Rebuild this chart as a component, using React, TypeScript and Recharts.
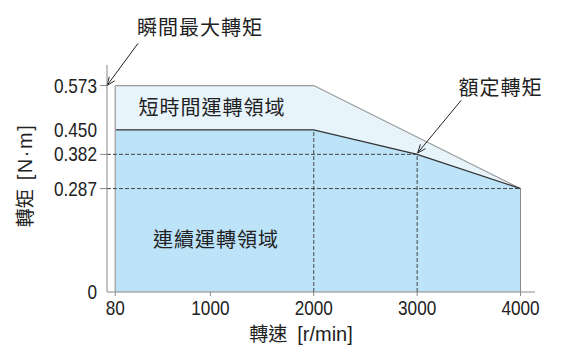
import { ComposedChart, Area, XAxis, YAxis, ReferenceLine, ReferenceDot } from "recharts";

const CJK = "'Noto Sans CJK TC', 'Noto Sans CJK SC', sans-serif";
const NUM = "'Liberation Sans', Arial, sans-serif";

// speed [r/min] vs torque [N·m]
const speeds = [80, 2000, 3000, 4000];
const shortTorque = [0.573, 0.573, null, 0.287]; // short-time zone top edge
const contTorque = [0.45, 0.45, 0.382, 0.287]; // continuous zone top edge

const xTicks = [80, 1000, 2000, 3000, 4000];
const yTicks = [0, 0.287, 0.382, 0.45, 0.573];
const yTicksMarked = [0.287, 0.382, 0.573];

// text annotations, placed in data coordinates
const notes = [
  { text: "瞬間最大轉矩", x: 900, y: 0.732 },
  { text: "短時間運轉領域", x: 1015, y: 0.51 },
  { text: "連續運轉領域", x: 1055, y: 0.145 },
  { text: "額定轉矩", x: 3806, y: 0.567 },
];
const arrows = [
  { x1: 300, y1: 0.69, x2: 0, y2: 0.573 },
  { x1: 3426, y1: 0.532, x2: 3005, y2: 0.386 },
];

const data = speeds.map((s, i) => ({ speed: s, short: shortTorque[i], cont: contTorque[i] }));

// dashed guides to the corner, rated and max-speed points
const guides = [
  [{ x: 0, y: contTorque[2] }, { x: speeds[2], y: contTorque[2] }],
  [{ x: 0, y: contTorque[3] }, { x: speeds[3], y: contTorque[3] }],
  [{ x: speeds[1], y: 0 }, { x: speeds[1], y: contTorque[1] }],
  [{ x: speeds[2], y: 0 }, { x: speeds[2], y: contTorque[2] }],
];

function fmtTorque(v: number): string {
  return v === 0 ? "0" : v.toFixed(3);
}

// condensed-looking numerals: regular sans squeezed horizontally
function NumText({ x, y, anchor, dy, children }: any) {
  return (
    <g transform={`translate(${x},${y}) scale(0.86,1)`}>
      <text x={0} y={0} dy={dy} textAnchor={anchor} fontSize={20} fill="#222" fontFamily={NUM}>
        {children}
      </text>
    </g>
  );
}

function YTick(props: any) {
  const { x, y, payload } = props;
  const marked = yTicksMarked.includes(payload.value);
  return (
    <g>
      <NumText x={x} y={y} anchor="end" dy="0.355em">
        {fmtTorque(payload.value)}
      </NumText>
      {marked && <line x1={x + 3} x2={x + 10} y1={y} y2={y} stroke="#888" strokeWidth={1} />}
    </g>
  );
}

function XTick(props: any) {
  const { x, y, payload } = props;
  return (
    <NumText x={x} y={y} anchor="middle" dy="0.71em">
      {payload.value}
    </NumText>
  );
}

function Arrow(p: any) {
  const { x1, y1, x2, y2 } = p;
  const ang = Math.atan2(y2 - y1, x2 - x1);
  const len = 9;
  const sp = 0.38;
  const a1 = ang + Math.PI - sp;
  const a2 = ang + Math.PI + sp;
  return (
    <g>
      <line x1={x1} y1={y1} x2={x2} y2={y2} stroke="#222" strokeWidth={1} />
      <polyline
        points={`${x2 + len * Math.cos(a1)},${y2 + len * Math.sin(a1)} ${x2},${y2} ${x2 + len * Math.cos(a2)},${y2 + len * Math.sin(a2)}`}
        fill="none"
        stroke="#222"
        strokeWidth={1}
      />
    </g>
  );
}

function noteShape(text: string) {
  return (p: any) => (
    <text
      x={p.cx}
      y={p.cy}
      dy="0.35em"
      textAnchor="middle"
      fontSize={20}
      fill="#222"
      fontFamily={CJK}
      style={{ letterSpacing: "1px" }}
    >
      {text}
    </text>
  );
}

export default function App() {
  return (
    <div style={{ position: "absolute", left: 0, top: 0 }}>
      <ComposedChart width={584} height={362} data={data} margin={{ top: 65, right: 49, bottom: 40, left: 0 }}>
        <XAxis
          dataKey="speed"
          type="number"
          domain={[0, 4140]}
          ticks={xTicks}
          interval={0}
          stroke="#888"
          tickSize={4}
          tickMargin={5}
          height={30}
          tick={<XTick />}
          label={(lp: any) => {
            const vb = lp.viewBox;
            return (
              <text x={vb.x + vb.width / 2 - 20} y={334} dy="0.35em" textAnchor="middle" fontSize={19} fill="#222" fontFamily={CJK}>
                轉速
                <tspan dx={10} fontFamily={NUM} fontSize={20}>[r/min]</tspan>
              </text>
            );
          }}
        />
        <YAxis
          type="number"
          domain={[0, 0.63]}
          ticks={yTicks}
          interval={0}
          width={107}
          stroke="#888"
          tickSize={7}
          tickMargin={3}
          tickLine={false}
          tick={<YTick />}
          label={(lp: any) => {
            const vb = lp.viewBox;
            const cy = vb.y + vb.height / 2 - 3;
            return (
              <text x={25} y={cy} dy="0.35em" textAnchor="middle" fontSize={19} fill="#222" fontFamily={CJK} transform={`rotate(-90 25 ${cy})`}>
                轉矩
                <tspan dx={9} fontFamily={NUM} fontSize={20} style={{ letterSpacing: "1.5px" }}>[N·m]</tspan>
              </text>
            );
          }}
        />
        <Area
          type="linear"
          dataKey="short"
          fill="#e7f4fc"
          fillOpacity={1}
          stroke="#999"
          strokeWidth={1.2}
          connectNulls
          isAnimationActive={false}
        />
        <Area
          type="linear"
          dataKey="cont"
          fill="#bde3f8"
          fillOpacity={1}
          stroke="#333"
          strokeWidth={1.2}
          isAnimationActive={false}
        />
        <ReferenceLine
          segment={[{ x: speeds[0], y: 0 }, { x: speeds[0], y: shortTorque[0] as number }]}
          stroke="#aaa"
          strokeWidth={1.5}
        />
        <ReferenceLine
          segment={[{ x: speeds[3], y: 0 }, { x: speeds[3], y: contTorque[3] }]}
          stroke="#888"
          strokeWidth={1}
        />
        {guides.map((g, i) => (
          <ReferenceLine key={`g${i}`} segment={g} stroke="#444" strokeWidth={1} strokeDasharray="4 2" />
        ))}
        {arrows.map((a, i) => (
          <ReferenceLine
            key={`a${i}`}
            segment={[{ x: a.x1, y: a.y1 }, { x: a.x2, y: a.y2 }]}
            ifOverflow="visible"
            shape={Arrow}
          />
        ))}
        {notes.map((n, i) => (
          <ReferenceDot key={`n${i}`} x={n.x} y={n.y} r={0} ifOverflow="visible" shape={noteShape(n.text)} />
        ))}
      </ComposedChart>
    </div>
  );
}
